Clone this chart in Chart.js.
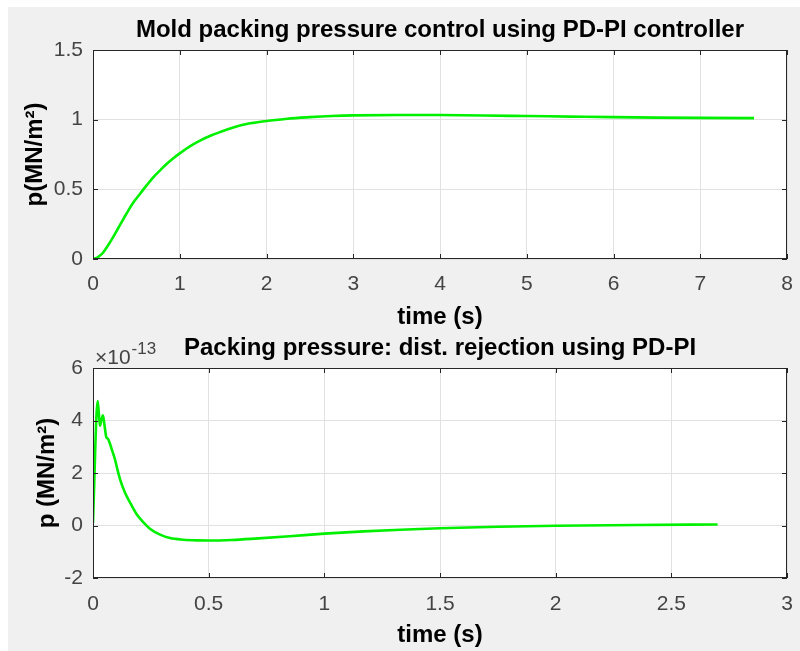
<!DOCTYPE html>
<html>
<head>
<meta charset="utf-8">
<script src="https://cdn.jsdelivr.net/npm/chart.js@4.4.1/dist/chart.umd.min.js"></script>
<style>
	body { margin: 0; background: #fff; }
	#fig { position: relative; width: 800px; height: 651px; }
	#fig_bg { position: absolute; left: 8px; top: 7px; right: 0; bottom: 0; background: #f0f0f0; }
	canvas { position: absolute; left: 0; }
</style>
</head>
<body>
<div id="fig">
	<div id="fig_bg"></div>
	<canvas id="graph_top" width="800" height="330" style="top:0"></canvas>
	<canvas id="graph_bottom" width="800" height="321" style="top:330px"></canvas>
</div>
<script>
// top plot: step response (s, MN/m^2)
var top_time = [0, 0.03, 0.07, 0.115, 0.165, 0.22, 0.28, 0.33, 0.39, 0.465, 0.545, 0.62, 0.70, 0.78, 0.855, 0.93, 1.0, 1.12, 1.245, 1.36, 1.475, 1.59, 1.705, 1.85, 2.0, 2.24, 2.5, 2.75, 3.0, 3.5, 4.0, 4.5, 5.0, 5.5, 6.0, 6.5, 7.0, 7.62];
var top_pressure = [0, 0.005, 0.02, 0.045, 0.09, 0.145, 0.21, 0.265, 0.33, 0.405, 0.47, 0.53, 0.59, 0.64, 0.686, 0.725, 0.758, 0.81, 0.853, 0.886, 0.913, 0.938, 0.96, 0.977, 0.99, 1.007, 1.018, 1.026, 1.031, 1.034, 1.033, 1.03, 1.026, 1.022, 1.018, 1.015, 1.013, 1.011];
var top_x_ticks = [0, 1, 2, 3, 4, 5, 6, 7, 8];
var top_y_ticks = [0, 0.5, 1, 1.5];

// bottom plot: disturbance rejection, values in units of 1e-13
var bottom_exponent = -13;
var bottom_time = [0, 0.005, 0.01, 0.015, 0.02, 0.025, 0.03, 0.036, 0.043, 0.05, 0.058, 0.065, 0.072, 0.083, 0.095, 0.106, 0.117, 0.138, 0.16, 0.188, 0.217, 0.246, 0.29, 0.333, 0.39, 0.45, 0.5, 0.6, 0.7, 0.85, 1.0, 1.17, 1.33, 1.5, 1.75, 2.0, 2.35, 2.7];
var bottom_pressure = [0.1, 1.5, 3.0, 4.2, 4.74, 4.3, 3.8, 4.0, 4.2, 3.8, 3.35, 3.3, 3.15, 2.85, 2.52, 2.12, 1.76, 1.26, 0.88, 0.44, 0.13, -0.12, -0.35, -0.48, -0.54, -0.565, -0.57, -0.55, -0.50, -0.41, -0.31, -0.225, -0.16, -0.105, -0.045, -0.01, 0.02, 0.04];
var bottom_x_ticks = [0, 0.5, 1, 1.5, 2, 2.5, 3];
var bottom_y_ticks = [-2, 0, 2, 4, 6];

var FONT = '"Liberation Sans", Arial, Helvetica, sans-serif';
var AXIS_COLOR = '#262626';
var TICK_COLOR = '#444444';

function toPoints(xs, ys){
	var pts = [];
	for(var i = 0; i < xs.length; i++){
		pts.push({x: xs[i], y: ys[i]});
	}
	return pts;
}

// white axes box, dark frame and MATLAB style inward ticks on all four sides
var matlabAxes = {
	id: 'matlabAxes',
	beforeDraw: function(chart){
		var a = chart.chartArea, ctx = chart.ctx;
		ctx.save();
		ctx.fillStyle = '#fff';
		ctx.fillRect(a.left, a.top, a.right - a.left, a.bottom - a.top);
		ctx.restore();
	},
	afterDraw: function(chart){
		var a = chart.chartArea, ctx = chart.ctx;
		var xs = chart.scales.x, ys = chart.scales.y;
		var len = 5;
		ctx.save();
		ctx.strokeStyle = AXIS_COLOR;
		ctx.lineWidth = 1;
		ctx.beginPath();
		xs.ticks.forEach(function(t){
			var px = Math.round(xs.getPixelForValue(t.value)) + 0.5;
			ctx.moveTo(px, a.bottom); ctx.lineTo(px, a.bottom - len);
			ctx.moveTo(px, a.top); ctx.lineTo(px, a.top + len);
		});
		ys.ticks.forEach(function(t){
			var py = Math.round(ys.getPixelForValue(t.value)) + 0.5;
			ctx.moveTo(a.left, py); ctx.lineTo(a.left + len, py);
			ctx.moveTo(a.right, py); ctx.lineTo(a.right - len, py);
		});
		ctx.stroke();
		ctx.strokeRect(Math.round(a.left) + 0.5, Math.round(a.top) + 0.5, Math.round(a.right - a.left) - 1, Math.round(a.bottom - a.top) - 1);

		// exponent of the y axis, "x10^-13"
		var exp = chart.options.plugins.matlabAxes.exponent;
		if(exp !== undefined){
			ctx.fillStyle = TICK_COLOR;
			ctx.textBaseline = 'middle';
			ctx.textAlign = 'left';
			ctx.font = '21px ' + FONT;
			var base = '\u00d710';
			ctx.fillText(base, a.left + 2, a.top - 10);
			var w = ctx.measureText(base).width;
			ctx.font = '17px ' + FONT;
			ctx.fillText(String(exp), a.left + 3 + w, a.top - 19);
		}
		ctx.restore();
	}
};

function makeConfig(pts, xTicks, yTicks, title, yTitle, geo){
	return {
		type: 'line',
		data: {
			datasets: [{
				data: pts,
				borderColor: '#00f000',
				backgroundColor: '#00f000',
				borderWidth: 2.6,
				pointRadius: 0,
				fill: false,
				cubicInterpolationMode: 'monotone'
			}]
		},
		options: {
			animation: false,
			responsive: false,
			events: [],
			layout: {
				padding: {left: 0, right: 13, top: 0, bottom: 0}
			},
			scales: {
				x: {
					type: 'linear',
					min: xTicks[0],
					max: xTicks[xTicks.length - 1],
					afterBuildTicks: function(scale){
						scale.ticks = xTicks.map(function(v){ return {value: v}; });
					},
					afterFit: function(scale){
						scale.height = geo.xHeight;
						scale.paddingLeft = 0;
						scale.paddingRight = 0;
					},
					ticks: {
						callback: function(value){ return String(value); },
						font: {family: FONT, size: 21},
						color: TICK_COLOR,
						padding: geo.xTickPad,
						maxRotation: 0,
						autoSkip: false
					},
					grid: {
						color: '#e1e1e1',
						lineWidth: 1,
						drawTicks: false
					},
					border: {display: false},
					title: {
						display: true,
						text: 'time (s)',
						font: {family: FONT, size: 24, weight: 'bold', lineHeight: 1},
						color: '#000',
						padding: {top: 0, bottom: geo.xTitlePad}
					}
				},
				y: {
					type: 'linear',
					min: yTicks[0],
					max: yTicks[yTicks.length - 1],
					afterBuildTicks: function(scale){
						scale.ticks = yTicks.map(function(v){ return {value: v}; });
					},
					afterFit: function(scale){
						scale.width = 93;
						scale.paddingTop = 0;
						scale.paddingBottom = 0;
					},
					ticks: {
						callback: function(value){ return String(value); },
						font: {family: FONT, size: 21},
						color: TICK_COLOR,
						padding: 10,
						autoSkip: false
					},
					grid: {
						color: '#e1e1e1',
						lineWidth: 1,
						drawTicks: false
					},
					border: {display: false},
					title: {
						display: true,
						text: yTitle,
						font: {family: FONT, size: 24, weight: 'bold', lineHeight: 1},
						color: '#000',
						padding: {top: geo.yTitlePad, bottom: 0}
					}
				}
			},
			plugins: {
				legend: {display: false},
				tooltip: {enabled: false},
				title: {
					display: true,
					text: title,
					fullSize: false,
					font: {family: FONT, size: 24, weight: 'bold', lineHeight: 1.2},
					color: '#000',
					padding: {top: geo.titleTop, bottom: geo.titleBottom}
				},
				matlabAxes: {exponent: geo.exponent}
			}
		},
		plugins: [matlabAxes]
	};
}

var graph_top_config = makeConfig(
	toPoints(top_time, top_pressure), top_x_ticks, top_y_ticks,
	'Mold packing pressure control using PD-PI controller', 'p(MN/m\u00b2)',
	{xHeight: 71, xTickPad: 13, xTitlePad: 1, yTitlePad: 23, titleTop: 15.6, titleBottom: 5.6}
);

var graph_bottom_config = makeConfig(
	toPoints(bottom_time, bottom_pressure), bottom_x_ticks, bottom_y_ticks,
	'Packing pressure: dist. rejection using PD-PI', 'p (MN/m\u00b2)',
	{xHeight: 73, xTickPad: 14, xTitlePad: 4, yTitlePad: 35, titleTop: 3.6, titleBottom: 5.6, exponent: bottom_exponent}
);

var graph_chart_top;
var graph_chart_bottom;
document.addEventListener("DOMContentLoaded", function(){
	graph_chart_top = new Chart(document.getElementById("graph_top").getContext('2d'), graph_top_config);
	graph_chart_bottom = new Chart(document.getElementById("graph_bottom").getContext('2d'), graph_bottom_config);
});
</script>
</body>
</html>
